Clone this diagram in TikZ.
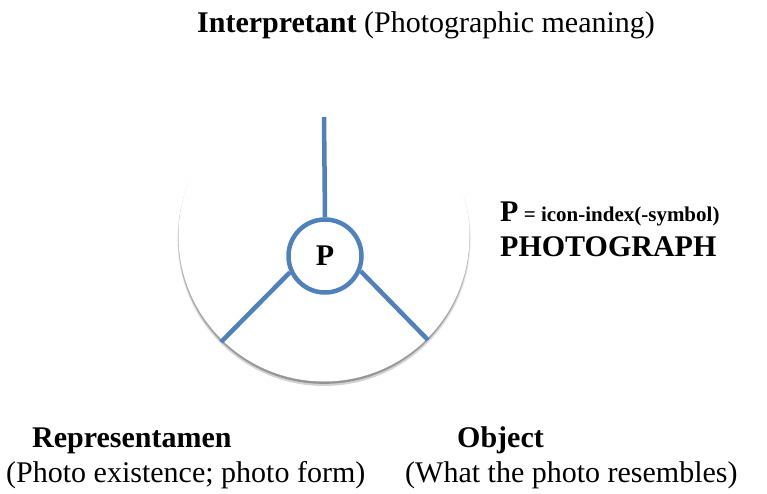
\documentclass[tikz,border=0pt]{standalone}
\usepackage{fontspec}
\setmainfont{Liberation Serif}
\usetikzlibrary{fadings}
\definecolor{lineblue}{RGB}{79,129,189}
\tikzfading[name=rimfade, top color=transparent!100, middle color=transparent!85, bottom color=transparent!0]
\tikzset{
  spoke/.style={draw=lineblue, line width=4.5pt},
  hub/.style={circle, draw=lineblue, line width=4.5pt, fill=white, minimum size=73pt, inner sep=0pt, font=\fontsize{30}{36}\selectfont\bfseries},
  lbl/.style={anchor=base west, inner sep=0pt},
  big/.style={font=\fontsize{30}{36}\selectfont},
}
\begin{document}
\begin{tikzpicture}[x=1pt, y=-1pt]
\useasboundingbox (0,0) rectangle (767,494);
% disc with soft shadow rim
\fill[black!18, path fading=rimfade] (324,239.5) circle (146.5);
\fill[black!42, path fading=rimfade] (324,237.8) circle (146);
\fill[white] (324,236) circle (145.5);
\coordinate (top) at (324,117);
\coordinate (bl) at (221,342);
\coordinate (br) at (428,340);
\node[hub] (P) at (325,256) {P};
\draw[spoke] (P.north) -- (top);
\draw[spoke] (P.205) -- (bl);
\draw[spoke] (P.-23) -- (br);
\node[lbl, big] (interp) at (197,33) {\textbf{Interpretant} (Photographic meaning)};
\node[lbl] (peq) at (500,222) {\fontsize{30}{36}\selectfont\bfseries P\fontsize{21}{25}\selectfont{} = icon-index(-symbol)};
\node[lbl, big] (photo) at (500,256) {\bfseries PHOTOGRAPH};
\node[lbl, big] (repr) at (32,447) {\bfseries Representamen};
\node[lbl, big] (reprsub) at (6,482) {(Photo existence; photo form)};
\node[lbl, big] (obj) at (457,447) {\bfseries Object};
\node[lbl, big] (objsub) at (405,482) {(What the photo resembles)};
\end{tikzpicture}
\end{document}
